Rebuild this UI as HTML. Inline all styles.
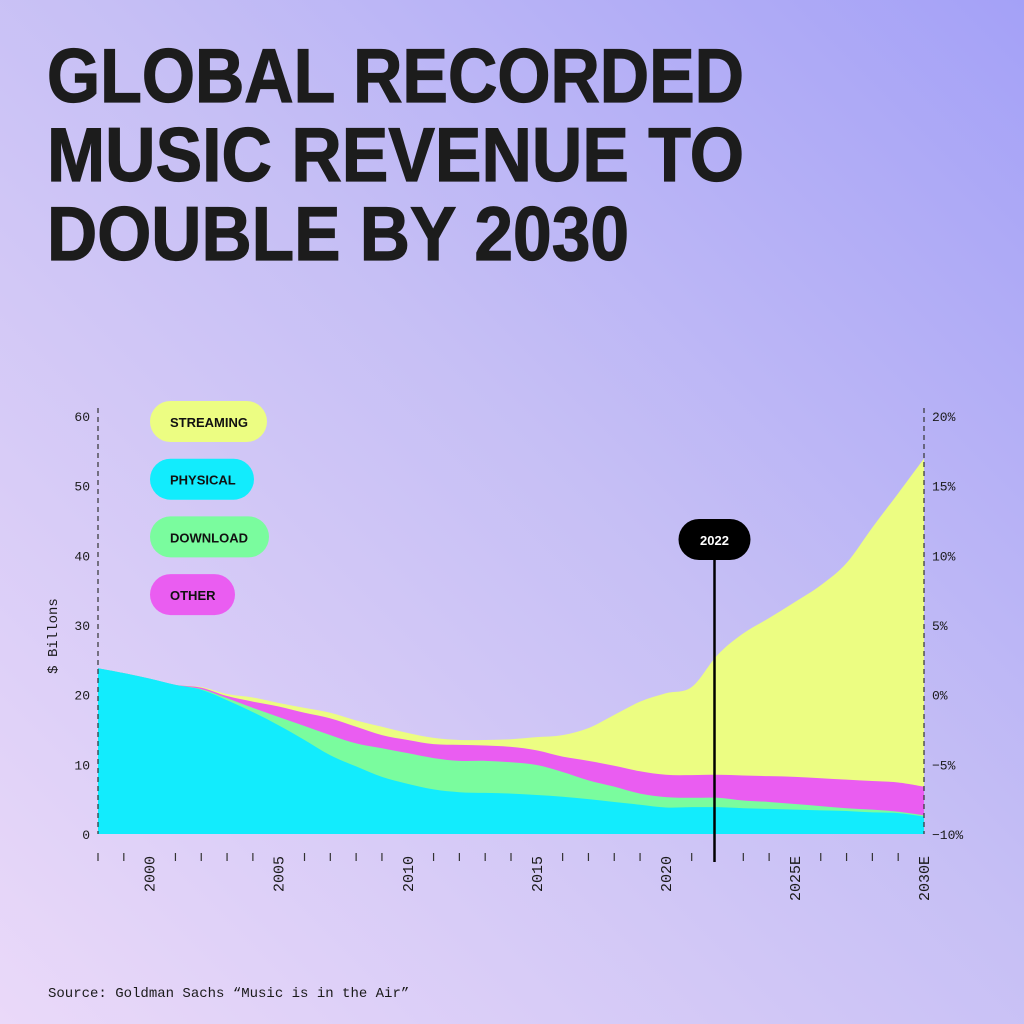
<!DOCTYPE html>
<html><head><meta charset="utf-8"><style>
html,body{margin:0;padding:0;width:1024px;height:1024px;overflow:hidden}
body{background:linear-gradient(225deg,#a4a1f7 0%,#c6bff5 45%,#ead9f9 100%)}
svg{position:absolute;left:0;top:0}
.mono{font-family:"Liberation Mono","DejaVu Sans Mono",monospace;font-size:13px;fill:#1a1a1a}
.pill{font-family:"Liberation Sans",sans-serif;font-size:13px;font-weight:bold;fill:#111}
.title{font-family:"Liberation Sans",sans-serif;font-weight:bold;font-size:76px;fill:#1c1c1c;stroke:#1c1c1c;stroke-width:1.2}
</style></head><body>
<svg id="chart" width="1024" height="1024">
<text class="title" x="47" y="102" textLength="697" lengthAdjust="spacingAndGlyphs">GLOBAL RECORDED</text>
<text class="title" x="47" y="181" textLength="697" lengthAdjust="spacingAndGlyphs">MUSIC REVENUE TO</text>
<text class="title" x="47" y="260" textLength="582" lengthAdjust="spacingAndGlyphs">DOUBLE BY 2030</text>
<g id="areas"></g>
<g id="axes"></g>
<g id="legend"></g>
<text class="mono" x="48" y="997" style="font-size:14px">Source: Goldman Sachs “Music is in the Air”</text>
</svg>
<script>
const years=[1998,1999,2000,2001,2002,2003,2004,2005,2006,2007,2008,2009,2010,2011,2012,2013,2014,2015,2016,2017,2018,2019,2020,2021,2022,2023,2024,2025,2026,2027,2028,2029,2030];
const physical=[23.8,23.1,22.3,21.4,20.7,19.2,17.5,15.6,13.5,11.3,9.7,8.2,7.2,6.4,6.0,5.9,5.8,5.6,5.35,5.0,4.6,4.2,3.8,3.85,3.85,3.7,3.6,3.5,3.4,3.3,3.1,3.0,2.5];
const download=[0,0,0,0,0.1,0.3,0.6,1.2,2.0,2.9,3.3,4.1,4.4,4.5,4.5,4.6,4.5,4.3,3.55,2.7,2.2,1.6,1.5,1.35,1.35,1.1,1.0,0.8,0.6,0.4,0.4,0.2,0.2];
const other=[0,0,0,0,0.2,0.3,0.9,1.5,1.9,2.4,2.4,1.9,1.9,2.0,2.3,2.2,2.2,2.1,2.2,2.8,3.0,3.2,3.2,3.25,3.3,3.6,3.7,3.9,4.0,4.1,4.1,4.2,4.1];
const streaming=[0,0,0,0,0.1,0.3,0.6,0.5,0.7,0.8,0.9,1.2,1.0,0.9,0.7,0.8,1.1,1.9,3.1,4.7,7.3,10.0,11.7,12.65,17.2,20.4,22.7,25.1,27.7,31.1,36.4,41.5,47.1];
const yTicks=[0,10,20,30,40,50,60];
const pctTicks=["-10%","-5%","0%","5%","10%","15%","20%"];
const xLabels=[[2000,"2000"],[2005,"2005"],[2010,"2010"],[2015,"2015"],[2020,"2020"],[2025,"2025E"],[2030,"2030E"]];
const legendNames=["STREAMING","PHYSICAL","DOWNLOAD","OTHER"];
const legendColors=["#ecfd82","#12ecfd","#7afc9e","#ea5df1"];
const markerYear=2022;

const X0=98,X1=924,Y0=834,Y1=416;
const x=v=>X0+(v-1998)*(X1-X0)/32;
const y=v=>Y0-v*(Y0-Y1)/60;
const NS="http://www.w3.org/2000/svg";
function mk(tag,attrs,parent){const e=document.createElementNS(NS,tag);for(const k in attrs)e.setAttribute(k,attrs[k]);parent.appendChild(e);return e;}
function smooth(pts){let d="";for(let i=0;i<pts.length;i++){const p=pts[i];if(i===0){d+="M"+p[0]+","+p[1];continue;}const p0=pts[Math.max(i-2,0)],p1=pts[i-1],p3=pts[Math.min(i+1,pts.length-1)];const c1=[p1[0]+(p[0]-p0[0])/6,p1[1]+(p[1]-p0[1])/6],c2=[p[0]-(p3[0]-p1[0])/6,p[1]-(p3[1]-p1[1])/6];d+="C"+c1+" "+c2+" "+p;}return d;}
const areas=document.getElementById('areas');
const stacks=[];let cum=years.map(()=>0);
[[physical,"physical"],[download,"download"],[other,"other"],[streaming,"streaming"]].forEach(([s,n])=>{const lo=cum.slice();cum=cum.map((c,i)=>c+s[i]);stacks.push([n,lo,cum.slice()]);});
const colorOf={streaming:legendColors[0],physical:legendColors[1],download:legendColors[2],other:legendColors[3]};
stacks.slice().reverse().forEach(([n,lo,hi])=>{
  const top=years.map((yr,i)=>[x(yr),y(hi[i])]);
  const d=smooth(top)+"L"+x(2030)+","+Y0+"L"+x(1998)+","+Y0+"Z";
  const p=mk('path',{d:d,fill:colorOf[n]},areas);
  
  
});
const axes=document.getElementById('axes');
[X0,X1].forEach((xx,i)=>{const l=mk('line',{x1:xx,x2:xx,y1:408,y2:834,stroke:'#333','stroke-width':1.2,'stroke-dasharray':'5,4'},axes);

});
yTicks.forEach(v=>{const t=mk('text',{x:90,y:y(v)+5,'text-anchor':'end',class:'mono'},axes);t.textContent=v;

});
pctTicks.forEach((s,i)=>{const t=mk('text',{x:932,y:y(i*10)+5,class:'mono'},axes);t.textContent=s.replace('-','−');

});
const labeled=xLabels.map(a=>a[0]);
years.forEach(yr=>{if(labeled.includes(yr)||yr===markerYear)return;const l=mk('line',{x1:x(yr),x2:x(yr),y1:853,y2:861,stroke:'#333','stroke-width':1.2},axes);

});
xLabels.forEach(([yr,s])=>{const t=mk('text',{x:0,y:0,'text-anchor':'end',class:'mono',transform:`translate(${x(yr)+5},856) rotate(-90)`,style:'font-size:15px'},axes);t.textContent=s;

});
const yt=mk('text',{x:0,y:0,'text-anchor':'middle',class:'mono',transform:'translate(57,636) rotate(-90)',style:'font-size:14px'},axes);yt.textContent='$ Billons';


const mx=x(markerYear)-3;
const ml=mk('line',{x1:mx,x2:mx,y1:555,y2:862,stroke:'#000','stroke-width':2.5},axes);


const mr=mk('rect',{x:mx-36,y:519,width:72,height:41,rx:20.5,fill:'#000'},axes);


const mt=mk('text',{x:mx,y:545,'text-anchor':'middle',class:'pill',style:'fill:#fff;font-size:13px'},axes);mt.textContent=String(markerYear);


const leg=document.getElementById('legend');
const widths=[117,104,119,85];
legendNames.forEach((n,i)=>{const g=mk('g',{},leg);


const yy=401+i*57.7;
mk('rect',{x:150,y:yy,width:widths[i],height:41,rx:20.5,fill:legendColors[i]},g);
const t=mk('text',{x:170,y:yy+26,class:'pill'},g);t.textContent=n;});
</script>
</body></html>
